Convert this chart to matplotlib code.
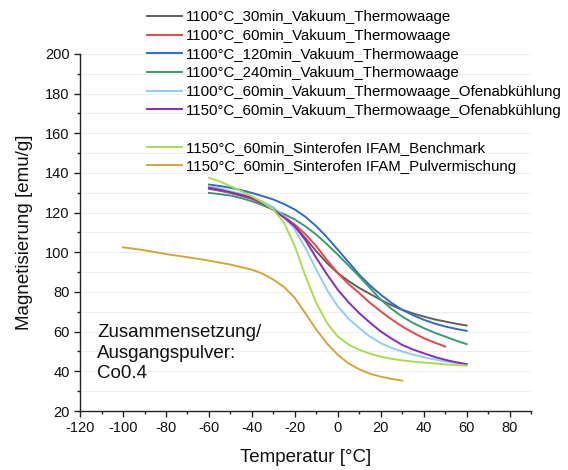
import matplotlib
matplotlib.use("Agg")
import matplotlib.pyplot as plt
from matplotlib.lines import Line2D
from matplotlib.ticker import MultipleLocator

plt.rcParams['font.family'] = ['Liberation Sans', 'DejaVu Sans']

# ---- data ----
T = [-60, -55, -50, -45, -40, -35, -30, -25, -20, -15, -10, -5, 0, 5, 10, 15, 20,
     25, 30, 35, 40, 45, 50, 55, 60]
T_red = T[:23]
m_30min = [132, 131, 130, 128.5, 127, 124.5, 121.5, 117.5, 113, 107, 100.5, 94.5, 89.5,
           85.5, 82, 79, 76, 73.3, 71, 69.2, 67.6, 66.2, 65.1, 64, 63.1]
m_60min = [132.5, 131.3, 130, 128.5, 126.9, 124.5, 121.5, 118, 113.9, 109, 103, 96, 89.5,
           84, 79.4, 74.5, 70.2, 66.2, 62.6, 59.5, 56.7, 54.5, 52.5]
m_120min = [134.1, 133.4, 132.5, 131.3, 129.9, 128.3, 126.6, 124.3, 121.5, 117.8, 113.1,
            107.5, 101.3, 95, 88.7, 83.3, 78.6, 74.5, 71, 68.3, 66, 64.1, 62.6, 61.4, 60.4]
m_240min = [129.9, 129.3, 128.6, 127.3, 125.7, 123.7, 121.5, 119.2, 116.5, 113, 108.9,
            104, 98.8, 93.3, 87.8, 82, 76.1, 71.5, 67.6, 64.4, 61.8, 59.5, 57.5, 55.5, 53.7]
m_1100_ofen = [133.3, 132.2, 130.8, 129.5, 127.9, 125.5, 122.7, 118, 111.4, 102, 91.2,
               81, 72.7, 66.5, 61.8, 57.5, 54.2, 51.8, 50, 48.5, 47.1, 46, 45, 44.3, 43.7]
m_1150_ofen = [132.5, 131.5, 130.2, 128.9, 127.4, 124.8, 121.5, 117.5, 113.1, 106, 97.1,
               88.8, 81.1, 74.8, 69.3, 64.5, 60.1, 56.5, 53.3, 51, 49.1, 47.3, 45.8, 44.6, 43.6]
m_bench = [137.5, 135.7, 133.3, 130.8, 128.2, 125.2, 121.5, 114.8, 103, 87.8, 74.4, 64.3,
           57.5, 53.5, 50.8, 48.9, 47.4, 46.3, 45.5, 44.9, 44.4, 44, 43.5, 43.2, 42.9]
T_pulver = [-100, -90, -80, -70, -60, -50, -40, -35, -30, -25, -20, -15, -10, -5, 0, 5,
            10, 15, 20, 25, 30]
m_pulver = [102.5, 101, 99.1, 97.5, 95.8, 93.8, 91.2, 89.2, 86.2, 82.5, 77, 69, 61, 54,
            48.3, 44, 41, 38.8, 37.3, 36.2, 35.3]

labels = ["1100°C_30min_Vakuum_Thermowaage",
          "1100°C_60min_Vakuum_Thermowaage",
          "1100°C_120min_Vakuum_Thermowaage",
          "1100°C_240min_Vakuum_Thermowaage",
          "1100°C_60min_Vakuum_Thermowaage_Ofenabkühlung",
          "1150°C_60min_Vakuum_Thermowaage_Ofenabkühlung",
          "1150°C_60min_Sinterofen IFAM_Benchmark",
          "1150°C_60min_Sinterofen IFAM_Pulvermischung"]
colors = ["#606060", "#e8474a", "#2f6cc8", "#3a9c6c", "#8fcdf6", "#8e28bb",
          "#a6df4c", "#d2a63a"]

xs = [T, T_red, T, T, T, T, T, T_pulver]
ys = [m_30min, m_60min, m_120min, m_240min, m_1100_ofen, m_1150_ofen, m_bench, m_pulver]

fig = plt.figure(figsize=(5.68, 4.70), dpi=100)
ax = fig.add_axes([0.141, 0.1255, 0.794, 0.76])

handles = []
for x, y, c, lab in zip(xs, ys, colors, labels):
    h, = ax.plot(x, y, color=c, lw=1.4, label=lab, solid_joinstyle='round')
    handles.append(h)

ax.set_xlim(-120, 90)
ax.set_ylim(20, 200)
ax.xaxis.set_minor_locator(MultipleLocator(10))
ax.yaxis.set_major_locator(MultipleLocator(20))
ax.yaxis.set_minor_locator(MultipleLocator(10))
ax.set_xticks(list(range(-120, 81, 20)))
ax.set_xticklabels([str(v) for v in range(-120, 81, 20)])
ax.grid(True, which='both', axis='y', color='#ededed', lw=0.7)
ax.set_axisbelow(True)
for s in ['top', 'right']:
    ax.spines[s].set_visible(False)
for s in ['left', 'bottom']:
    ax.spines[s].set_color('#222222')
    ax.spines[s].set_linewidth(1.0)
ax.tick_params(which='major', direction='out', length=4.5, width=1, colors='#222222',
               labelsize=10.5, labelcolor='#111111', pad=3)
ax.tick_params(which='minor', direction='out', length=2.5, width=1, colors='#222222')

ax.set_xlabel("Temperatur [°C]", fontsize=13.5, color='#111111', labelpad=10)
ax.set_ylabel("Magnetisierung [emu/g]", fontsize=13.5, color='#111111', labelpad=9)

ax.text(-112, 49.2, "Zusammensetzung/\nAusgangspulver:\nCo0.4", fontsize=13.5,
        va='center', ha='left', color='#111111', linespacing=1.25)

blank = Line2D([], [], color='none')
leg_handles = handles[:6] + [blank] + handles[6:]
leg_labels = labels[:6] + [" "] + labels[6:]
leg = fig.legend(leg_handles, leg_labels, loc='upper left', bbox_to_anchor=(0.258, 0.978),
                 frameon=False, fontsize=10.8, handlelength=2.35, handletextpad=0.3,
                 labelspacing=0.31, borderpad=0, borderaxespad=0)
for l in leg.get_lines():
    l.set_linewidth(1.4)

fig.savefig("out.png", dpi=100)
